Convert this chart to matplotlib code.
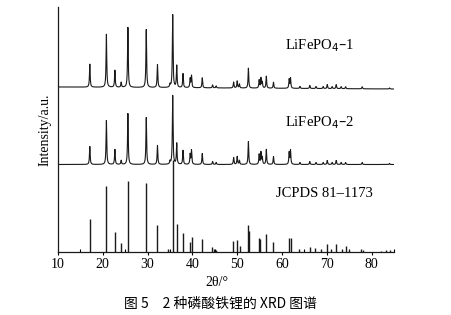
import numpy as np
import matplotlib.pyplot as plt

# peak positions (2theta) and heights for each pattern
pos1 = [17.1, 20.8, 22.7, 24.1, 25.6, 29.7, 32.2, 35.0, 35.6, 36.5, 37.9, 39.5, 39.8, 42.2, 44.5, 45.3,
        49.2, 50.0, 50.5, 52.5, 54.9, 55.3, 55.6, 56.5, 58.1, 61.6, 61.9, 64.0, 66.2, 67.6, 69.2, 70.1,
        71.2, 72.1, 73.2, 74.2, 77.9, 84.0]
h1 = [23, 53, 17, 5, 60, 58, 23, 3, 73, 22, 14, 9, 12, 10, 3, 2,
      6, 7, 4, 20, 8, 10, 6, 12, 6, 9, 10, 2, 3, 2, 2, 4,
      2, 4, 2, 2, 2, 1]

pos2 = pos1
h2 = [18, 44, 15, 4, 51, 47, 19, 3, 69, 21, 14, 10, 14, 11, 3, 2,
      7, 8, 4, 23, 10, 12, 7, 15, 8, 12, 14, 2, 3, 2, 2, 4,
      2, 4, 2, 2, 2, 1]

pos_ref = [17.1, 20.8, 22.7, 24.1, 25.6, 29.7, 32.2, 34.5, 35.6, 36.6, 38.0, 39.5, 39.8, 42.2, 44.3, 44.8,
           45.2, 49.1, 50.0, 50.6, 52.5, 52.7, 54.9, 55.2, 56.4, 58.1, 61.6, 61.9, 63.8, 66.2, 67.3, 68.7,
           70.0, 71.0, 72.1, 73.3, 74.2, 75.0, 77.6, 78.0, 82.2, 83.3, 84.2]
h_ref = [33, 66, 20, 9, 71, 69, 27, 3, 92, 28, 19, 10, 15, 13, 5, 3,
         2, 11, 12, 6, 27, 21, 14, 13, 18, 10, 14, 14, 3, 5, 4, 3,
         8, 3, 8, 3, 6, 2, 3, 2, 1, 2, 2]

base1 = 165
base2 = 87.5

x = np.linspace(10, 85, 6000)


def profile(pos, h, w=0.09):
    y = np.zeros_like(x)
    for p, a in zip(pos, h):
        y += a / (1 + ((x - p) / w) ** 2)
    return y


y1 = base1 + profile(pos1, h1) - 2 * (x - 10) / 75
y2 = base2 + profile(pos2, h2)

fig = plt.figure(figsize=(4.51, 3.15), dpi=100)
ax = fig.add_axes([0.1286, 0.2, 0.745, 0.7778])

ax.plot(x, y1, color='#1a1a1a', lw=0.8)
ax.plot(x, y2, color='#1a1a1a', lw=0.8)
ax.vlines(pos_ref, 0, h_ref, color='#1a1a1a', lw=1.0)

ax.set_xlim(10, 85)
ax.set_ylim(0, 245)
ax.set_yticks([])
ax.set_xticks(range(10, 90, 10))
ax.set_xticks(range(15, 90, 10), minor=True)
ax.tick_params(axis='x', which='major', direction='out', length=2.5, width=0.8, pad=2,
               labelsize=10)
ax.tick_params(axis='x', which='minor', direction='in', length=2, width=0.8)
for lab in ax.get_xticklabels():
    lab.set_family('Liberation Serif')
ax.spines['top'].set_visible(False)
ax.spines['right'].set_visible(False)
for s in ['left', 'bottom']:
    ax.spines[s].set_linewidth(0.9)
    ax.spines[s].set_color('#1a1a1a')

serif = 'Liberation Serif'
ax.text(68.5, 206, 'LiFePO$_4$–1', family=serif, fontsize=10.5, ha='center', va='center')
ax.text(68.5, 129, 'LiFePO$_4$–2', family=serif, fontsize=10.5, ha='center', va='center')
ax.text(69.5, 58, 'JCPDS 81–1173', family=serif, fontsize=10.5, ha='center', va='center')
plt.rcParams['mathtext.fontset'] = 'stix'

fig.text(217 / 451, 1 - 282 / 315, '2θ/°', family=serif, fontsize=10, ha='center', va='center')
fig.text(45 / 451, 1 - 130 / 315, 'Intensity/a.u.', family=serif, fontsize=10, rotation=90,
         ha='center', va='center')
fig.text(220 / 451, 1 - 304 / 315, '图 5　2 种磷酸铁锂的 XRD 图谱',
         family=['Noto Sans CJK SC', 'DejaVu Sans'], fontsize=10, ha='center', va='center')

fig.savefig('out.png', dpi=100)
